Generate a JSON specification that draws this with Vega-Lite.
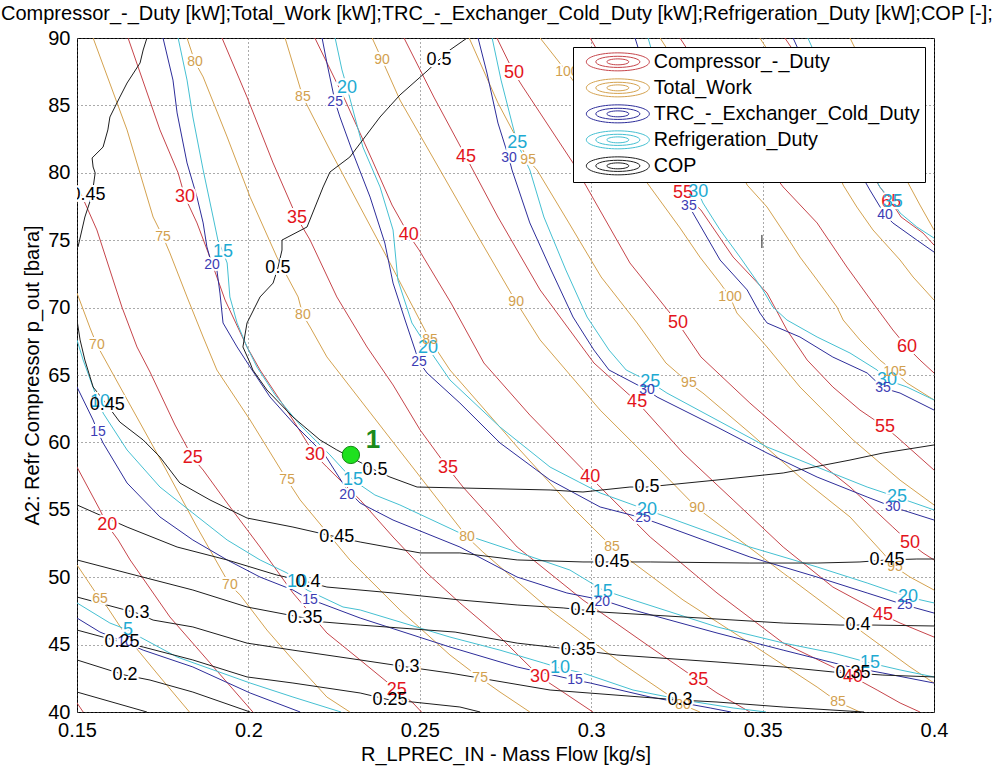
{
  "$schema": "https://vega.github.io/schema/vega-lite/v6.json",
  "width": 857,
  "height": 674,
  "autosize": {"type": "none"},
  "padding": {"left": 77, "top": 38, "right": 70, "bottom": 57},
  "background": "white",
  "title": {"text": "Compressor_-_Duty [kW];Total_Work [kW];TRC_-_Exchanger_Cold_Duty [kW];Refrigeration_Duty [kW];COP [-];", "anchor": "start", "frame": "group", "dx": -76, "offset": 4, "fontSize": 20, "font": "Liberation Sans", "fontWeight": "normal", "color": "black"},
  "config": {
    "view": {"stroke": "black", "strokeWidth": 1},
    "legend": {
      "title": null, "orient": "top-right", "offset": 9, "fillColor": "white", "strokeColor": "black", "strokeWidth": 1, "padding": 5, "cornerRadius": 0,
      "symbolType": "M-3.5,0A3.5,1,0,1,1,3.5,0A3.5,1,0,1,1,-3.5,0ZM-2.45,0A2.45,0.62,0,1,1,2.45,0A2.45,0.62,0,1,1,-2.45,0ZM-1.22,0A1.22,0.33,0,1,1,1.22,0A1.22,0.33,0,1,1,-1.22,0Z",
      "symbolSize": 324, "symbolStrokeWidth": 1, "symbolOffset": 30, "labelOffset": 26, "labelFontSize": 19.7, "labelFont": "Liberation Sans", "labelColor": "black", "rowPadding": 3, "labelLimit": 500
    }
  },
  "datasets": {
    "names": [
      {"k": "C", "s": "Compressor_-_Duty"}, {"k": "W", "s": "Total_Work"}, {"k": "T", "s": "TRC_-_Exchanger_Cold_Duty"}, {"k": "R", "s": "Refrigeration_Duty"}, {"k": "P", "s": "COP"}
    ],
    "pt": [{"x": 0.2299, "y": 59.07, "t": "1"}],
    "lines": [
      {"k":"C","g":"r15","x":0.15,"y":40.67},{"k":"C","g":"r15","x":0.1518,"y":40},
      {"k":"C","g":"r20","x":0.15,"y":58.17},{"k":"C","g":"r20","x":0.1567,"y":54.99},{"k":"C","g":"r20","x":0.1588,"y":53.87},{"k":"C","g":"r20","x":0.162,"y":52.76},{"k":"C","g":"r20","x":0.1655,"y":51.28},{"k":"C","g":"r20","x":0.1771,"y":47.05},{"k":"C","g":"r20","x":0.1888,"y":43.64},{"k":"C","g":"r20","x":0.2013,"y":40},
      {"k":"C","g":"r25","x":0.15,"y":79.09},{"k":"C","g":"r25","x":0.1558,"y":75.76},{"k":"C","g":"r25","x":0.1631,"y":70.04},{"k":"C","g":"r25","x":0.1675,"y":67.08},{"k":"C","g":"r25","x":0.1713,"y":65.22},{"k":"C","g":"r25","x":0.1786,"y":61.29},{"k":"C","g":"r25","x":0.1838,"y":58.84},{"k":"C","g":"r25","x":0.1868,"y":57.95},{"k":"C","g":"r25","x":0.1938,"y":55.5},{"k":"C","g":"r25","x":0.2034,"y":52.24},{"k":"C","g":"r25","x":0.213,"y":48.83},{"k":"C","g":"r25","x":0.2229,"y":45.86},{"k":"C","g":"r25","x":0.2326,"y":43.86},{"k":"C","g":"r25","x":0.2433,"y":41.63},{"k":"C","g":"r25","x":0.248,"y":40.67},{"k":"C","g":"r25","x":0.2505,"y":40},
      {"k":"C","g":"r30","x":0.1649,"y":90},{"k":"C","g":"r30","x":0.1742,"y":83.18},{"k":"C","g":"r30","x":0.1795,"y":79.99},{"k":"C","g":"r30","x":0.1815,"y":78.2},{"k":"C","g":"r30","x":0.185,"y":76.28},{"k":"C","g":"r30","x":0.1882,"y":74.12},{"k":"C","g":"r30","x":0.1932,"y":70.56},{"k":"C","g":"r30","x":0.1996,"y":67.08},{"k":"C","g":"r30","x":0.2034,"y":65.37},{"k":"C","g":"r30","x":0.2121,"y":62.03},{"k":"C","g":"r30","x":0.2194,"y":59.07},{"k":"C","g":"r30","x":0.2229,"y":58.17},{"k":"C","g":"r30","x":0.2326,"y":55.73},{"k":"C","g":"r30","x":0.2422,"y":52.98},{"k":"C","g":"r30","x":0.2521,"y":50.31},{"k":"C","g":"r30","x":0.2617,"y":48.09},{"k":"C","g":"r30","x":0.2734,"y":45.56},{"k":"C","g":"r30","x":0.2851,"y":42.6},{"k":"C","g":"r30","x":0.2909,"y":41.63},{"k":"C","g":"r30","x":0.3005,"y":40},
      {"k":"C","g":"r35","x":0.1923,"y":90},{"k":"C","g":"r35","x":0.1996,"y":85.62},{"k":"C","g":"r35","x":0.2072,"y":80.73},{"k":"C","g":"r35","x":0.2142,"y":76.65},{"k":"C","g":"r35","x":0.218,"y":75.01},{"k":"C","g":"r35","x":0.2258,"y":70.79},{"k":"C","g":"r35","x":0.2346,"y":67.08},{"k":"C","g":"r35","x":0.2422,"y":64.26},{"k":"C","g":"r35","x":0.2501,"y":60.92},{"k":"C","g":"r35","x":0.2582,"y":58.1},{"k":"C","g":"r35","x":0.2626,"y":56.69},{"k":"C","g":"r35","x":0.2784,"y":52.24},{"k":"C","g":"r35","x":0.2976,"y":48.31},{"k":"C","g":"r35","x":0.3172,"y":44.82},{"k":"C","g":"r35","x":0.3312,"y":42.37},{"k":"C","g":"r35","x":0.3367,"y":41.41},{"k":"C","g":"r35","x":0.3463,"y":40},
      {"k":"C","g":"r40","x":0.2194,"y":90},{"k":"C","g":"r40","x":0.2282,"y":85.4},{"k":"C","g":"r40","x":0.2361,"y":80.95},{"k":"C","g":"r40","x":0.2419,"y":77.61},{"k":"C","g":"r40","x":0.2468,"y":75.39},{"k":"C","g":"r40","x":0.2498,"y":74.27},{"k":"C","g":"r40","x":0.2591,"y":70.34},{"k":"C","g":"r40","x":0.2687,"y":65.89},{"k":"C","g":"r40","x":0.2821,"y":62.03},{"k":"C","g":"r40","x":0.2997,"y":57.43},{"k":"C","g":"r40","x":0.3026,"y":56.69},{"k":"C","g":"r40","x":0.3172,"y":52.98},{"k":"C","g":"r40","x":0.3367,"y":48.83},{"k":"C","g":"r40","x":0.356,"y":45.12},{"k":"C","g":"r40","x":0.3705,"y":43.34},{"k":"C","g":"r40","x":0.3764,"y":42.6},{"k":"C","g":"r40","x":0.3834,"y":41.63},{"k":"C","g":"r40","x":0.3901,"y":40.67},{"k":"C","g":"r40","x":0.3959,"y":40},
      {"k":"C","g":"r45","x":0.2454,"y":90},{"k":"C","g":"r45","x":0.2541,"y":85.62},{"k":"C","g":"r45","x":0.2635,"y":81.17},{"k":"C","g":"r45","x":0.2655,"y":80.21},{"k":"C","g":"r45","x":0.2728,"y":76.72},{"k":"C","g":"r45","x":0.2851,"y":71.31},{"k":"C","g":"r45","x":0.3008,"y":65.89},{"k":"C","g":"r45","x":0.3134,"y":63},{"k":"C","g":"r45","x":0.3163,"y":62.18},{"k":"C","g":"r45","x":0.3268,"y":59.21},{"k":"C","g":"r45","x":0.3414,"y":55.73},{"k":"C","g":"r45","x":0.356,"y":52.24},{"k":"C","g":"r45","x":0.3705,"y":49.27},{"k":"C","g":"r45","x":0.3813,"y":47.79},{"k":"C","g":"r45","x":0.3851,"y":47.2},{"k":"C","g":"r45","x":0.3901,"y":46.6},{"k":"C","g":"r45","x":0.4,"y":45.56},
      {"k":"C","g":"r50","x":0.2725,"y":90},{"k":"C","g":"r50","x":0.2775,"y":87.4},{"k":"C","g":"r50","x":0.2801,"y":86.36},{"k":"C","g":"r50","x":0.2947,"y":80.73},{"k":"C","g":"r50","x":0.3113,"y":73.31},{"k":"C","g":"r50","x":0.3253,"y":68.86},{"k":"C","g":"r50","x":0.332,"y":66.34},{"k":"C","g":"r50","x":0.3463,"y":62.92},{"k":"C","g":"r50","x":0.3609,"y":59.66},{"k":"C","g":"r50","x":0.3755,"y":56.69},{"k":"C","g":"r50","x":0.388,"y":53.72},{"k":"C","g":"r50","x":0.393,"y":52.54},{"k":"C","g":"r50","x":0.3968,"y":51.8},{"k":"C","g":"r50","x":0.4,"y":51.28},
      {"k":"C","g":"r55","x":0.2997,"y":90},{"k":"C","g":"r55","x":0.3084,"y":86.14},{"k":"C","g":"r55","x":0.3172,"y":82.43},{"k":"C","g":"r55","x":0.3268,"y":78.5},{"k":"C","g":"r55","x":0.332,"y":77.24},{"k":"C","g":"r55","x":0.3414,"y":73.75},{"k":"C","g":"r55","x":0.3513,"y":71.08},{"k":"C","g":"r55","x":0.3571,"y":68.34},{"k":"C","g":"r55","x":0.363,"y":66.11},{"k":"C","g":"r55","x":0.3705,"y":64.11},{"k":"C","g":"r55","x":0.3784,"y":62.4},{"k":"C","g":"r55","x":0.3857,"y":61.14},{"k":"C","g":"r55","x":0.3892,"y":60.4},{"k":"C","g":"r55","x":0.4,"y":57.95},
      {"k":"C","g":"r60","x":0.3259,"y":90},{"k":"C","g":"r60","x":0.3376,"y":85.4},{"k":"C","g":"r60","x":0.3478,"y":81.69},{"k":"C","g":"r60","x":0.356,"y":78.95},{"k":"C","g":"r60","x":0.3659,"y":76.28},{"k":"C","g":"r60","x":0.3746,"y":73.01},{"k":"C","g":"r60","x":0.3822,"y":70.34},{"k":"C","g":"r60","x":0.388,"y":68.34},{"k":"C","g":"r60","x":0.3921,"y":67.08},{"k":"C","g":"r60","x":0.3959,"y":66.11},{"k":"C","g":"r60","x":0.4,"y":65.15},
      {"k":"C","g":"r65","x":0.3565,"y":90},{"k":"C","g":"r65","x":0.3726,"y":83.92},{"k":"C","g":"r65","x":0.3842,"y":78.95},{"k":"C","g":"r65","x":0.3875,"y":77.83},{"k":"C","g":"r65","x":0.3904,"y":76.72},{"k":"C","g":"r65","x":0.3968,"y":75.53},{"k":"C","g":"r65","x":0.4,"y":74.64},

      {"k":"W","g":"t65","x":0.15,"y":50.91},{"k":"W","g":"t65","x":0.1567,"y":48.38},{"k":"W","g":"t65","x":0.1588,"y":47.79},{"k":"W","g":"t65","x":0.1646,"y":45.56},{"k":"W","g":"t65","x":0.1742,"y":42.6},{"k":"W","g":"t65","x":0.1828,"y":40},
      {"k":"W","g":"t70","x":0.15,"y":71.08},{"k":"W","g":"t70","x":0.1538,"y":68.49},{"k":"W","g":"t70","x":0.1558,"y":67.23},{"k":"W","g":"t70","x":0.1655,"y":62.77},{"k":"W","g":"t70","x":0.1757,"y":58.1},{"k":"W","g":"t70","x":0.185,"y":53.72},{"k":"W","g":"t70","x":0.1946,"y":49.42},{"k":"W","g":"t70","x":0.1976,"y":48.68},{"k":"W","g":"t70","x":0.2054,"y":46.08},{"k":"W","g":"t70","x":0.213,"y":43.86},{"k":"W","g":"t70","x":0.2229,"y":41.11},{"k":"W","g":"t70","x":0.2296,"y":40},
      {"k":"W","g":"t75","x":0.1547,"y":90},{"k":"W","g":"t75","x":0.1646,"y":83.18},{"k":"W","g":"t75","x":0.1722,"y":76.72},{"k":"W","g":"t75","x":0.1751,"y":75.24},{"k":"W","g":"t75","x":0.1771,"y":74.05},{"k":"W","g":"t75","x":0.1821,"y":70.79},{"k":"W","g":"t75","x":0.1868,"y":67.82},{"k":"W","g":"t75","x":0.1908,"y":65.37},{"k":"W","g":"t75","x":0.2005,"y":61.66},{"k":"W","g":"t75","x":0.2113,"y":57.21},{"k":"W","g":"t75","x":0.2151,"y":55.73},{"k":"W","g":"t75","x":0.2296,"y":51.28},{"k":"W","g":"t75","x":0.2442,"y":47.57},{"k":"W","g":"t75","x":0.2588,"y":44.23},{"k":"W","g":"t75","x":0.2676,"y":42.52},{"k":"W","g":"t75","x":0.2734,"y":41.48},{"k":"W","g":"t75","x":0.2821,"y":40},
      {"k":"W","g":"t80","x":0.1821,"y":90},{"k":"W","g":"t80","x":0.1844,"y":88.22},{"k":"W","g":"t80","x":0.1868,"y":87.11},{"k":"W","g":"t80","x":0.1938,"y":82.66},{"k":"W","g":"t80","x":0.2005,"y":78.2},{"k":"W","g":"t80","x":0.2083,"y":73.75},{"k":"W","g":"t80","x":0.2145,"y":70.79},{"k":"W","g":"t80","x":0.2159,"y":69.45},{"k":"W","g":"t80","x":0.218,"y":68.56},{"k":"W","g":"t80","x":0.2229,"y":66.34},{"k":"W","g":"t80","x":0.2433,"y":59.66},{"k":"W","g":"t80","x":0.2638,"y":52.98},{"k":"W","g":"t80","x":0.2684,"y":51.87},{"k":"W","g":"t80","x":0.288,"y":47.57},{"k":"W","g":"t80","x":0.3075,"y":43.86},{"k":"W","g":"t80","x":0.3268,"y":40.52},{"k":"W","g":"t80","x":0.3317,"y":40},
      {"k":"W","g":"t85","x":0.2107,"y":90},{"k":"W","g":"t85","x":0.2159,"y":85.62},{"k":"W","g":"t85","x":0.2238,"y":81.69},{"k":"W","g":"t85","x":0.2326,"y":77.46},{"k":"W","g":"t85","x":0.2413,"y":73.31},{"k":"W","g":"t85","x":0.253,"y":67.6},{"k":"W","g":"t85","x":0.2588,"y":65.37},{"k":"W","g":"t85","x":0.2792,"y":59.44},{"k":"W","g":"t85","x":0.2938,"y":55.36},{"k":"W","g":"t85","x":0.3061,"y":52.24},{"k":"W","g":"t85","x":0.3268,"y":48.31},{"k":"W","g":"t85","x":0.3463,"y":45.11},{"k":"W","g":"t85","x":0.3659,"y":41.85},{"k":"W","g":"t85","x":0.372,"y":40.74},{"k":"W","g":"t85","x":0.3784,"y":40},
      {"k":"W","g":"t90","x":0.2361,"y":90},{"k":"W","g":"t90","x":0.239,"y":88.37},{"k":"W","g":"t90","x":0.2442,"y":85.4},{"k":"W","g":"t90","x":0.2559,"y":80.21},{"k":"W","g":"t90","x":0.2676,"y":75.01},{"k":"W","g":"t90","x":0.2781,"y":70.42},{"k":"W","g":"t90","x":0.2851,"y":67.6},{"k":"W","g":"t90","x":0.3026,"y":62.4},{"k":"W","g":"t90","x":0.3172,"y":58.69},{"k":"W","g":"t90","x":0.3309,"y":55.13},{"k":"W","g":"t90","x":0.3367,"y":54.02},{"k":"W","g":"t90","x":0.356,"y":50.31},{"k":"W","g":"t90","x":0.3755,"y":46.6},{"k":"W","g":"t90","x":0.393,"y":43.34},{"k":"W","g":"t90","x":0.4,"y":42.15},
      {"k":"W","g":"t95","x":0.2644,"y":90},{"k":"W","g":"t95","x":0.2728,"y":85.18},{"k":"W","g":"t95","x":0.2816,"y":80.95},{"k":"W","g":"t95","x":0.2842,"y":80.21},{"k":"W","g":"t95","x":0.2935,"y":76.28},{"k":"W","g":"t95","x":0.3029,"y":72.27},{"k":"W","g":"t95","x":0.3134,"y":68.86},{"k":"W","g":"t95","x":0.3218,"y":65.89},{"k":"W","g":"t95","x":0.3285,"y":64.41},{"k":"W","g":"t95","x":0.3326,"y":63.66},{"k":"W","g":"t95","x":0.3463,"y":60.7},{"k":"W","g":"t95","x":0.3609,"y":57.43},{"k":"W","g":"t95","x":0.3755,"y":54.47},{"k":"W","g":"t95","x":0.3851,"y":51.8},{"k":"W","g":"t95","x":0.3886,"y":50.76},{"k":"W","g":"t95","x":0.393,"y":50.01},{"k":"W","g":"t95","x":0.4,"y":49.05},
      {"k":"W","g":"t100","x":0.2851,"y":90},{"k":"W","g":"t100","x":0.2929,"y":87.48},{"k":"W","g":"t100","x":0.3026,"y":84.07},{"k":"W","g":"t100","x":0.3142,"y":79.99},{"k":"W","g":"t100","x":0.3259,"y":75.91},{"k":"W","g":"t100","x":0.3317,"y":73.75},{"k":"W","g":"t100","x":0.3376,"y":71.82},{"k":"W","g":"t100","x":0.3405,"y":70.79},{"k":"W","g":"t100","x":0.3425,"y":69.6},{"k":"W","g":"t100","x":0.3513,"y":67.08},{"k":"W","g":"t100","x":0.3609,"y":64.11},{"k":"W","g":"t100","x":0.3705,"y":61.66},{"k":"W","g":"t100","x":0.3764,"y":60.18},{"k":"W","g":"t100","x":0.3901,"y":57.2},{"k":"W","g":"t100","x":0.4,"y":55.36},
      {"k":"W","g":"t105","x":0.3201,"y":90},{"k":"W","g":"t105","x":0.3317,"y":85.4},{"k":"W","g":"t105","x":0.3405,"y":81.69},{"k":"W","g":"t105","x":0.3455,"y":79.09},{"k":"W","g":"t105","x":0.3513,"y":77.46},{"k":"W","g":"t105","x":0.3571,"y":75.24},{"k":"W","g":"t105","x":0.3609,"y":73.75},{"k":"W","g":"t105","x":0.3659,"y":72.05},{"k":"W","g":"t105","x":0.3717,"y":70.04},{"k":"W","g":"t105","x":0.3735,"y":69.08},{"k":"W","g":"t105","x":0.3784,"y":67.6},{"k":"W","g":"t105","x":0.3842,"y":66.11},{"k":"W","g":"t105","x":0.3886,"y":65.22},{"k":"W","g":"t105","x":0.3921,"y":64.41},{"k":"W","g":"t105","x":0.4,"y":63.15},
      {"k":"W","g":"t110","x":0.3492,"y":90},{"k":"W","g":"t110","x":0.3609,"y":85.4},{"k":"W","g":"t110","x":0.3697,"y":81.69},{"k":"W","g":"t110","x":0.3735,"y":79.09},{"k":"W","g":"t110","x":0.3775,"y":77.46},{"k":"W","g":"t110","x":0.3822,"y":75.76},{"k":"W","g":"t110","x":0.3901,"y":73.53},{"k":"W","g":"t110","x":0.3939,"y":72.27},{"k":"W","g":"t110","x":0.4,"y":70.56},
      {"k":"W","g":"t115","x":0.3755,"y":90},{"k":"W","g":"t115","x":0.3872,"y":83.92},{"k":"W","g":"t115","x":0.3915,"y":79.69},{"k":"W","g":"t115","x":0.3959,"y":77.61},{"k":"W","g":"t115","x":0.4,"y":75.76},

      {"k":"T","g":"b10","x":0.15,"y":46.97},{"k":"T","g":"b10","x":0.1567,"y":45.93},{"k":"T","g":"b10","x":0.164,"y":45.18},{"k":"T","g":"b10","x":0.1693,"y":44.59},{"k":"T","g":"b10","x":0.1838,"y":43.34},{"k":"T","g":"b10","x":0.2005,"y":41.41},{"k":"T","g":"b10","x":0.2151,"y":40},
      {"k":"T","g":"b15","x":0.15,"y":64.11},{"k":"T","g":"b15","x":0.1547,"y":61.66},{"k":"T","g":"b15","x":0.1561,"y":60.77},{"k":"T","g":"b15","x":0.1576,"y":59.96},{"k":"T","g":"b15","x":0.1646,"y":56.99},{"k":"T","g":"b15","x":0.1742,"y":54.47},{"k":"T","g":"b15","x":0.1838,"y":52.76},{"k":"T","g":"b15","x":0.1938,"y":51.28},{"k":"T","g":"b15","x":0.2034,"y":50.01},{"k":"T","g":"b15","x":0.213,"y":49.05},{"k":"T","g":"b15","x":0.218,"y":48.31},{"k":"T","g":"b15","x":0.2209,"y":48.09},{"k":"T","g":"b15","x":0.2326,"y":46.97},{"k":"T","g":"b15","x":0.2588,"y":44.82},{"k":"T","g":"b15","x":0.2784,"y":43.34},{"k":"T","g":"b15","x":0.2953,"y":42.37},{"k":"T","g":"b15","x":0.2997,"y":42.15},{"k":"T","g":"b15","x":0.3172,"y":41.11},{"k":"T","g":"b15","x":0.3347,"y":40.3},{"k":"T","g":"b15","x":0.3408,"y":40},
      {"k":"T","g":"b20","x":0.1751,"y":90},{"k":"T","g":"b20","x":0.178,"y":86.88},{"k":"T","g":"b20","x":0.1792,"y":84.44},{"k":"T","g":"b20","x":0.1821,"y":80.73},{"k":"T","g":"b20","x":0.185,"y":78.2},{"k":"T","g":"b20","x":0.1868,"y":76.28},{"k":"T","g":"b20","x":0.1879,"y":74.5},{"k":"T","g":"b20","x":0.1894,"y":73.16},{"k":"T","g":"b20","x":0.1908,"y":72.79},{"k":"T","g":"b20","x":0.1917,"y":71.08},{"k":"T","g":"b20","x":0.1926,"y":68.86},{"k":"T","g":"b20","x":0.1967,"y":67.08},{"k":"T","g":"b20","x":0.2005,"y":65.59},{"k":"T","g":"b20","x":0.2063,"y":63.37},{"k":"T","g":"b20","x":0.2136,"y":61.29},{"k":"T","g":"b20","x":0.2223,"y":59.07},{"k":"T","g":"b20","x":0.2288,"y":56.47},{"k":"T","g":"b20","x":0.2326,"y":55.5},{"k":"T","g":"b20","x":0.2422,"y":54.24},{"k":"T","g":"b20","x":0.2617,"y":52.24},{"k":"T","g":"b20","x":0.2784,"y":50.01},{"k":"T","g":"b20","x":0.2929,"y":48.83},{"k":"T","g":"b20","x":0.3032,"y":48.31},{"k":"T","g":"b20","x":0.3122,"y":47.57},{"k":"T","g":"b20","x":0.3367,"y":45.86},{"k":"T","g":"b20","x":0.356,"y":44.59},{"k":"T","g":"b20","x":0.3755,"y":43.34},{"k":"T","g":"b20","x":0.3851,"y":42.89},{"k":"T","g":"b20","x":0.4,"y":42.15},
      {"k":"T","g":"b25","x":0.2215,"y":90},{"k":"T","g":"b25","x":0.2229,"y":88.15},{"k":"T","g":"b25","x":0.2253,"y":85.25},{"k":"T","g":"b25","x":0.2267,"y":84.14},{"k":"T","g":"b25","x":0.2305,"y":81.47},{"k":"T","g":"b25","x":0.2355,"y":78.2},{"k":"T","g":"b25","x":0.2398,"y":74.79},{"k":"T","g":"b25","x":0.2422,"y":71.82},{"k":"T","g":"b25","x":0.2457,"y":69.08},{"k":"T","g":"b25","x":0.2498,"y":65.96},{"k":"T","g":"b25","x":0.2521,"y":65.15},{"k":"T","g":"b25","x":0.2617,"y":62.92},{"k":"T","g":"b25","x":0.2734,"y":59.96},{"k":"T","g":"b25","x":0.288,"y":57.21},{"k":"T","g":"b25","x":0.3026,"y":55.21},{"k":"T","g":"b25","x":0.3151,"y":54.39},{"k":"T","g":"b25","x":0.3192,"y":54.02},{"k":"T","g":"b25","x":0.3463,"y":51.5},{"k":"T","g":"b25","x":0.3659,"y":50.01},{"k":"T","g":"b25","x":0.3805,"y":48.83},{"k":"T","g":"b25","x":0.3915,"y":47.94},{"k":"T","g":"b25","x":0.4,"y":47.34},
      {"k":"T","g":"b30","x":0.267,"y":90},{"k":"T","g":"b30","x":0.2696,"y":87.4},{"k":"T","g":"b30","x":0.2728,"y":83.69},{"k":"T","g":"b30","x":0.276,"y":81.1},{"k":"T","g":"b30","x":0.2769,"y":80.21},{"k":"T","g":"b30","x":0.2821,"y":76.28},{"k":"T","g":"b30","x":0.2883,"y":72.79},{"k":"T","g":"b30","x":0.2947,"y":69.3},{"k":"T","g":"b30","x":0.3008,"y":66.85},{"k":"T","g":"b30","x":0.3052,"y":65.37},{"k":"T","g":"b30","x":0.3163,"y":63.89},{"k":"T","g":"b30","x":0.3192,"y":63.37},{"k":"T","g":"b30","x":0.3367,"y":61.14},{"k":"T","g":"b30","x":0.3513,"y":59.21},{"k":"T","g":"b30","x":0.3659,"y":57.43},{"k":"T","g":"b30","x":0.3805,"y":55.95},{"k":"T","g":"b30","x":0.388,"y":55.21},{"k":"T","g":"b30","x":0.4,"y":54.24},
      {"k":"T","g":"b35","x":0.3128,"y":90},{"k":"T","g":"b35","x":0.3166,"y":86.88},{"k":"T","g":"b35","x":0.3207,"y":83.18},{"k":"T","g":"b35","x":0.3244,"y":79.47},{"k":"T","g":"b35","x":0.3285,"y":77.54},{"k":"T","g":"b35","x":0.3317,"y":76.13},{"k":"T","g":"b35","x":0.3376,"y":73.53},{"k":"T","g":"b35","x":0.3455,"y":71.31},{"k":"T","g":"b35","x":0.3492,"y":69.6},{"k":"T","g":"b35","x":0.3513,"y":68.86},{"k":"T","g":"b35","x":0.3609,"y":67.82},{"k":"T","g":"b35","x":0.3705,"y":66.33},{"k":"T","g":"b35","x":0.3805,"y":65.15},{"k":"T","g":"b35","x":0.3851,"y":64.04},{"k":"T","g":"b35","x":0.3901,"y":63.66},{"k":"T","g":"b35","x":0.4,"y":62.4},
      {"k":"T","g":"b40","x":0.3589,"y":90},{"k":"T","g":"b40","x":0.3697,"y":83.92},{"k":"T","g":"b40","x":0.3813,"y":78.72},{"k":"T","g":"b40","x":0.3857,"y":76.87},{"k":"T","g":"b40","x":0.388,"y":76.28},{"k":"T","g":"b40","x":0.395,"y":75.01},{"k":"T","g":"b40","x":0.4,"y":74.12},

      {"k":"R","g":"c5","x":0.15,"y":48.09},{"k":"R","g":"c5","x":0.1596,"y":46.6},{"k":"R","g":"c5","x":0.1649,"y":46.08},{"k":"R","g":"c5","x":0.1684,"y":45.56},{"k":"R","g":"c5","x":0.1792,"y":44.08},{"k":"R","g":"c5","x":0.2005,"y":42.15},{"k":"R","g":"c5","x":0.213,"y":41.11},{"k":"R","g":"c5","x":0.227,"y":40},
      {"k":"R","g":"c10","x":0.15,"y":67.6},{"k":"R","g":"c10","x":0.1518,"y":66.11},{"k":"R","g":"c10","x":0.1553,"y":63.66},{"k":"R","g":"c10","x":0.1567,"y":63},{"k":"R","g":"c10","x":0.1576,"y":62.18},{"k":"R","g":"c10","x":0.1646,"y":59.44},{"k":"R","g":"c10","x":0.1742,"y":56.69},{"k":"R","g":"c10","x":0.1838,"y":54.76},{"k":"R","g":"c10","x":0.1938,"y":52.76},{"k":"R","g":"c10","x":0.2034,"y":51.28},{"k":"R","g":"c10","x":0.2113,"y":50.31},{"k":"R","g":"c10","x":0.2142,"y":49.64},{"k":"R","g":"c10","x":0.2171,"y":49.05},{"k":"R","g":"c10","x":0.2276,"y":47.79},{"k":"R","g":"c10","x":0.2326,"y":47.57},{"k":"R","g":"c10","x":0.2588,"y":45.56},{"k":"R","g":"c10","x":0.2734,"y":44.59},{"k":"R","g":"c10","x":0.286,"y":43.64},{"k":"R","g":"c10","x":0.2909,"y":43.26},{"k":"R","g":"c10","x":0.2976,"y":42.89},{"k":"R","g":"c10","x":0.3122,"y":41.63},{"k":"R","g":"c10","x":0.3268,"y":40.89},{"k":"R","g":"c10","x":0.3414,"y":40.3},{"k":"R","g":"c10","x":0.351,"y":40},
      {"k":"R","g":"c15","x":0.1795,"y":90},{"k":"R","g":"c15","x":0.1821,"y":86.88},{"k":"R","g":"c15","x":0.1838,"y":84.14},{"k":"R","g":"c15","x":0.1868,"y":80.21},{"k":"R","g":"c15","x":0.1897,"y":76.72},{"k":"R","g":"c15","x":0.1911,"y":75.01},{"k":"R","g":"c15","x":0.1926,"y":74.12},{"k":"R","g":"c15","x":0.1938,"y":73.31},{"k":"R","g":"c15","x":0.1946,"y":70.79},{"k":"R","g":"c15","x":0.1967,"y":68.86},{"k":"R","g":"c15","x":0.1996,"y":67.08},{"k":"R","g":"c15","x":0.2025,"y":65.59},{"k":"R","g":"c15","x":0.2078,"y":63.52},{"k":"R","g":"c15","x":0.2151,"y":61.29},{"k":"R","g":"c15","x":0.2238,"y":59.07},{"k":"R","g":"c15","x":0.2305,"y":57.21},{"k":"R","g":"c15","x":0.2369,"y":56.1},{"k":"R","g":"c15","x":0.2442,"y":55.36},{"k":"R","g":"c15","x":0.2617,"y":53.28},{"k":"R","g":"c15","x":0.2792,"y":51.8},{"k":"R","g":"c15","x":0.2938,"y":50.53},{"k":"R","g":"c15","x":0.3034,"y":49.05},{"k":"R","g":"c15","x":0.3122,"y":48.31},{"k":"R","g":"c15","x":0.3367,"y":46.31},{"k":"R","g":"c15","x":0.356,"y":45.12},{"k":"R","g":"c15","x":0.3705,"y":44.38},{"k":"R","g":"c15","x":0.3813,"y":43.64},{"k":"R","g":"c15","x":0.3901,"y":43.12},{"k":"R","g":"c15","x":0.4,"y":42.6},
      {"k":"R","g":"c20","x":0.2253,"y":90},{"k":"R","g":"c20","x":0.2273,"y":87.63},{"k":"R","g":"c20","x":0.2288,"y":86.29},{"k":"R","g":"c20","x":0.2305,"y":84.66},{"k":"R","g":"c20","x":0.2334,"y":81.91},{"k":"R","g":"c20","x":0.2384,"y":78.95},{"k":"R","g":"c20","x":0.2422,"y":75.76},{"k":"R","g":"c20","x":0.2436,"y":72.05},{"k":"R","g":"c20","x":0.2477,"y":68.86},{"k":"R","g":"c20","x":0.2524,"y":67},{"k":"R","g":"c20","x":0.2588,"y":64.63},{"k":"R","g":"c20","x":0.2734,"y":61.14},{"k":"R","g":"c20","x":0.288,"y":58.17},{"k":"R","g":"c20","x":0.3026,"y":56.25},{"k":"R","g":"c20","x":0.3163,"y":54.99},{"k":"R","g":"c20","x":0.3221,"y":54.47},{"k":"R","g":"c20","x":0.3463,"y":52.24},{"k":"R","g":"c20","x":0.3659,"y":50.76},{"k":"R","g":"c20","x":0.3805,"y":49.57},{"k":"R","g":"c20","x":0.3924,"y":48.53},{"k":"R","g":"c20","x":0.4,"y":48.09},
      {"k":"R","g":"c25","x":0.2711,"y":90},{"k":"R","g":"c25","x":0.2737,"y":86.88},{"k":"R","g":"c25","x":0.2769,"y":83.69},{"k":"R","g":"c25","x":0.2784,"y":82.21},{"k":"R","g":"c25","x":0.2821,"y":80.21},{"k":"R","g":"c25","x":0.2862,"y":76.72},{"k":"R","g":"c25","x":0.2926,"y":72.79},{"k":"R","g":"c25","x":0.2988,"y":69.3},{"k":"R","g":"c25","x":0.3052,"y":66.85},{"k":"R","g":"c25","x":0.3102,"y":65.37},{"k":"R","g":"c25","x":0.3172,"y":64.48},{"k":"R","g":"c25","x":0.3221,"y":63.66},{"k":"R","g":"c25","x":0.3367,"y":61.66},{"k":"R","g":"c25","x":0.3513,"y":59.66},{"k":"R","g":"c25","x":0.3659,"y":58.17},{"k":"R","g":"c25","x":0.3805,"y":56.69},{"k":"R","g":"c25","x":0.3892,"y":55.95},{"k":"R","g":"c25","x":0.4,"y":54.99},
      {"k":"R","g":"c30","x":0.3166,"y":90},{"k":"R","g":"c30","x":0.3201,"y":86.88},{"k":"R","g":"c30","x":0.3244,"y":83.18},{"k":"R","g":"c30","x":0.3288,"y":79.84},{"k":"R","g":"c30","x":0.3312,"y":78.58},{"k":"R","g":"c30","x":0.3326,"y":77.76},{"k":"R","g":"c30","x":0.3376,"y":75.76},{"k":"R","g":"c30","x":0.3434,"y":73.75},{"k":"R","g":"c30","x":0.3501,"y":71.31},{"k":"R","g":"c30","x":0.353,"y":70.04},{"k":"R","g":"c30","x":0.3571,"y":69.08},{"k":"R","g":"c30","x":0.3659,"y":67.82},{"k":"R","g":"c30","x":0.3755,"y":66.63},{"k":"R","g":"c30","x":0.3834,"y":65.37},{"k":"R","g":"c30","x":0.3863,"y":64.63},{"k":"R","g":"c30","x":0.3921,"y":64.11},{"k":"R","g":"c30","x":0.4,"y":63.15},
      {"k":"R","g":"c35","x":0.3632,"y":90},{"k":"R","g":"c35","x":0.374,"y":83.92},{"k":"R","g":"c35","x":0.3842,"y":78.95},{"k":"R","g":"c35","x":0.388,"y":77.83},{"k":"R","g":"c35","x":0.3901,"y":77.02},{"k":"R","g":"c35","x":0.395,"y":75.98},{"k":"R","g":"c35","x":0.4,"y":75.16},

      {"k":"P","g":"k50","x":0.2638,"y":90},{"k":"P","g":"k50","x":0.2588,"y":89.11},{"k":"P","g":"k50","x":0.2556,"y":88.37},{"k":"P","g":"k50","x":0.2518,"y":87.48},{"k":"P","g":"k50","x":0.2442,"y":85.77},{"k":"P","g":"k50","x":0.2384,"y":84.14},{"k":"P","g":"k50","x":0.2296,"y":81.17},{"k":"P","g":"k50","x":0.2238,"y":80.06},{"k":"P","g":"k50","x":0.2218,"y":78.95},{"k":"P","g":"k50","x":0.2171,"y":75.98},{"k":"P","g":"k50","x":0.2098,"y":75.01},{"k":"P","g":"k50","x":0.2098,"y":74.27},{"k":"P","g":"k50","x":0.2086,"y":72.94},{"k":"P","g":"k50","x":0.2072,"y":71.82},{"k":"P","g":"k50","x":0.2034,"y":70.79},{"k":"P","g":"k50","x":0.1996,"y":68.86},{"k":"P","g":"k50","x":0.1984,"y":67.08},{"k":"P","g":"k50","x":0.2005,"y":65.89},{"k":"P","g":"k50","x":0.2013,"y":65.37},{"k":"P","g":"k50","x":0.2054,"y":63.89},{"k":"P","g":"k50","x":0.213,"y":61.88},{"k":"P","g":"k50","x":0.2209,"y":60.18},{"k":"P","g":"k50","x":0.2258,"y":59.44},{"k":"P","g":"k50","x":0.2369,"y":57.95},{"k":"P","g":"k50","x":0.2413,"y":57.43},{"k":"P","g":"k50","x":0.2492,"y":56.69},{"k":"P","g":"k50","x":0.2617,"y":56.62},{"k":"P","g":"k50","x":0.288,"y":56.47},{"k":"P","g":"k50","x":0.2976,"y":56.32},{"k":"P","g":"k50","x":0.3113,"y":56.69},{"k":"P","g":"k50","x":0.3163,"y":56.69},{"k":"P","g":"k50","x":0.3221,"y":56.84},{"k":"P","g":"k50","x":0.3367,"y":57.21},{"k":"P","g":"k50","x":0.356,"y":57.73},{"k":"P","g":"k50","x":0.3755,"y":58.69},{"k":"P","g":"k50","x":0.3851,"y":59.21},{"k":"P","g":"k50","x":0.4,"y":59.81},
      {"k":"P","g":"k50b","x":0.3498,"y":75.39},{"k":"P","g":"k50b","x":0.3498,"y":74.42},
      {"k":"P","g":"k45a","x":0.1704,"y":90},{"k":"P","g":"k45a","x":0.1693,"y":89.11},{"k":"P","g":"k45a","x":0.1684,"y":88.15},{"k":"P","g":"k45a","x":0.1646,"y":86.66},{"k":"P","g":"k45a","x":0.1625,"y":85.62},{"k":"P","g":"k45a","x":0.1596,"y":84.14},{"k":"P","g":"k45a","x":0.159,"y":83.18},{"k":"P","g":"k45a","x":0.1576,"y":81.91},{"k":"P","g":"k45a","x":0.1544,"y":81.1},{"k":"P","g":"k45a","x":0.1547,"y":80.43},{"k":"P","g":"k45a","x":0.1553,"y":79.99},{"k":"P","g":"k45a","x":0.1544,"y":78.35},{"k":"P","g":"k45a","x":0.1523,"y":76.72},{"k":"P","g":"k45a","x":0.1503,"y":74.5},
      {"k":"P","g":"k45b","x":0.15,"y":69.08},{"k":"P","g":"k45b","x":0.1509,"y":67.6},{"k":"P","g":"k45b","x":0.1523,"y":66.11},{"k":"P","g":"k45b","x":0.1547,"y":64.11},{"k":"P","g":"k45b","x":0.1588,"y":62.77},{"k":"P","g":"k45b","x":0.1625,"y":61.51},{"k":"P","g":"k45b","x":0.1693,"y":60.18},{"k":"P","g":"k45b","x":0.1742,"y":58.92},{"k":"P","g":"k45b","x":0.18,"y":56.99},{"k":"P","g":"k45b","x":0.1888,"y":55.73},{"k":"P","g":"k45b","x":0.1996,"y":54.39},{"k":"P","g":"k45b","x":0.213,"y":53.72},{"k":"P","g":"k45b","x":0.2258,"y":52.98},{"k":"P","g":"k45b","x":0.2326,"y":52.61},{"k":"P","g":"k45b","x":0.2501,"y":51.8},{"k":"P","g":"k45b","x":0.2617,"y":51.8},{"k":"P","g":"k45b","x":0.2784,"y":51.28},{"k":"P","g":"k45b","x":0.2976,"y":51.13},{"k":"P","g":"k45b","x":0.3061,"y":51.13},{"k":"P","g":"k45b","x":0.3172,"y":51.13},{"k":"P","g":"k45b","x":0.3463,"y":51.05},{"k":"P","g":"k45b","x":0.3659,"y":51.05},{"k":"P","g":"k45b","x":0.3784,"y":51.13},{"k":"P","g":"k45b","x":0.3863,"y":51.28},{"k":"P","g":"k45b","x":0.395,"y":51.35},{"k":"P","g":"k45b","x":0.4,"y":51.35},
      {"k":"P","g":"k40","x":0.15,"y":55.36},{"k":"P","g":"k40","x":0.1646,"y":53.72},{"k":"P","g":"k40","x":0.1792,"y":52.24},{"k":"P","g":"k40","x":0.1938,"y":51.28},{"k":"P","g":"k40","x":0.2083,"y":50.16},{"k":"P","g":"k40","x":0.2174,"y":49.64},{"k":"P","g":"k40","x":0.2229,"y":49.27},{"k":"P","g":"k40","x":0.2422,"y":48.83},{"k":"P","g":"k40","x":0.2617,"y":48.31},{"k":"P","g":"k40","x":0.2784,"y":47.94},{"k":"P","g":"k40","x":0.2918,"y":47.72},{"k":"P","g":"k40","x":0.2976,"y":47.57},{"k":"P","g":"k40","x":0.3026,"y":47.42},{"k":"P","g":"k40","x":0.3268,"y":47.05},{"k":"P","g":"k40","x":0.356,"y":46.6},{"k":"P","g":"k40","x":0.3726,"y":46.45},{"k":"P","g":"k40","x":0.3778,"y":46.45},{"k":"P","g":"k40","x":0.3822,"y":46.45},{"k":"P","g":"k40","x":0.4,"y":46.38},
      {"k":"P","g":"k35","x":0.15,"y":51.28},{"k":"P","g":"k35","x":0.1646,"y":50.31},{"k":"P","g":"k35","x":0.1838,"y":49.05},{"k":"P","g":"k35","x":0.1996,"y":47.79},{"k":"P","g":"k35","x":0.2165,"y":46.97},{"k":"P","g":"k35","x":0.2218,"y":46.68},{"k":"P","g":"k35","x":0.2326,"y":46.45},{"k":"P","g":"k35","x":0.2603,"y":45.93},{"k":"P","g":"k35","x":0.2784,"y":45.11},{"k":"P","g":"k35","x":0.2962,"y":44.59},{"k":"P","g":"k35","x":0.3075,"y":44.23},{"k":"P","g":"k35","x":0.3367,"y":43.71},{"k":"P","g":"k35","x":0.356,"y":43.34},{"k":"P","g":"k35","x":0.3705,"y":42.97},{"k":"P","g":"k35","x":0.3764,"y":42.89},{"k":"P","g":"k35","x":0.3851,"y":42.74},{"k":"P","g":"k35","x":0.4,"y":42.6},
      {"k":"P","g":"k30","x":0.15,"y":48.53},{"k":"P","g":"k30","x":0.1675,"y":47.34},{"k":"P","g":"k30","x":0.1722,"y":46.82},{"k":"P","g":"k30","x":0.1838,"y":46.31},{"k":"P","g":"k30","x":0.1996,"y":45.11},{"k":"P","g":"k30","x":0.213,"y":44.59},{"k":"P","g":"k30","x":0.2326,"y":43.86},{"k":"P","g":"k30","x":0.2463,"y":43.34},{"k":"P","g":"k30","x":0.2588,"y":42.89},{"k":"P","g":"k30","x":0.288,"y":41.63},{"k":"P","g":"k30","x":0.3259,"y":40.89},{"k":"P","g":"k30","x":0.3367,"y":40.74},{"k":"P","g":"k30","x":0.356,"y":40.37},{"k":"P","g":"k30","x":0.3796,"y":40},
      {"k":"P","g":"k25","x":0.15,"y":46.08},{"k":"P","g":"k25","x":0.1631,"y":45.18},{"k":"P","g":"k25","x":0.1693,"y":44.82},{"k":"P","g":"k25","x":0.1838,"y":43.86},{"k":"P","g":"k25","x":0.1996,"y":42.6},{"k":"P","g":"k25","x":0.213,"y":42.15},{"k":"P","g":"k25","x":0.2326,"y":41.41},{"k":"P","g":"k25","x":0.2413,"y":40.89},{"k":"P","g":"k25","x":0.248,"y":40.74},{"k":"P","g":"k25","x":0.2617,"y":40.37},{"k":"P","g":"k25","x":0.2676,"y":40},
      {"k":"P","g":"k20","x":0.15,"y":43.86},{"k":"P","g":"k20","x":0.164,"y":42.74},{"k":"P","g":"k20","x":0.1713,"y":42.37},{"k":"P","g":"k20","x":0.1838,"y":41.48},{"k":"P","g":"k20","x":0.2005,"y":40},
      {"k":"P","g":"k15","x":0.15,"y":41.48},{"k":"P","g":"k15","x":0.1704,"y":40}
    ],
    "labels": [
      {"k":"C","t":"20","x":0.1588,"y":53.87},{"k":"C","t":"25","x":0.1838,"y":58.84},{"k":"C","t":"25","x":0.2433,"y":41.63},{"k":"C","t":"30","x":0.1815,"y":78.2},{"k":"C","t":"30","x":0.2194,"y":59.07},{"k":"C","t":"30","x":0.2851,"y":42.6},{"k":"C","t":"35","x":0.2142,"y":76.65},{"k":"C","t":"35","x":0.2582,"y":58.1},{"k":"C","t":"35","x":0.3312,"y":42.37},{"k":"C","t":"40","x":0.2468,"y":75.39},{"k":"C","t":"40","x":0.2997,"y":57.43},{"k":"C","t":"40","x":0.3764,"y":42.6},{"k":"C","t":"45","x":0.2635,"y":81.17},{"k":"C","t":"45","x":0.3134,"y":63},{"k":"C","t":"45","x":0.3851,"y":47.2},{"k":"C","t":"50","x":0.2775,"y":87.4},{"k":"C","t":"50","x":0.3253,"y":68.86},{"k":"C","t":"50","x":0.393,"y":52.54},{"k":"C","t":"55","x":0.3268,"y":78.5},{"k":"C","t":"55","x":0.3857,"y":61.14},{"k":"C","t":"60","x":0.3921,"y":67.08},{"k":"C","t":"65","x":0.3875,"y":77.83},
      {"k":"R","t":"5","x":0.1649,"y":46.08},{"k":"R","t":"10","x":0.1567,"y":63},{"k":"R","t":"10","x":0.2142,"y":49.64},{"k":"R","t":"10","x":0.2909,"y":43.26},{"k":"R","t":"15","x":0.1926,"y":74.12},{"k":"R","t":"15","x":0.2305,"y":57.21},{"k":"R","t":"15","x":0.3034,"y":48.9},{"k":"R","t":"15","x":0.3813,"y":43.64},{"k":"R","t":"20","x":0.2288,"y":86.29},{"k":"R","t":"20","x":0.2524,"y":67},{"k":"R","t":"20","x":0.3163,"y":54.99},{"k":"R","t":"20","x":0.3924,"y":48.53},{"k":"R","t":"25","x":0.2784,"y":82.21},{"k":"R","t":"25","x":0.3172,"y":64.48},{"k":"R","t":"25","x":0.3892,"y":55.95},{"k":"R","t":"30","x":0.3312,"y":78.58},{"k":"R","t":"30","x":0.3863,"y":64.63},{"k":"R","t":"35","x":0.388,"y":77.83},
      {"k":"T","t":"10","x":0.164,"y":45.18},{"k":"T","t":"15","x":0.1561,"y":60.77},{"k":"T","t":"15","x":0.218,"y":48.31},{"k":"T","t":"15","x":0.2953,"y":42.37},{"k":"T","t":"20","x":0.1894,"y":73.16},{"k":"T","t":"20","x":0.2288,"y":56.1},{"k":"T","t":"20","x":0.3032,"y":48.16},{"k":"T","t":"25","x":0.2253,"y":85.25},{"k":"T","t":"25","x":0.2498,"y":65.96},{"k":"T","t":"25","x":0.3151,"y":54.39},{"k":"T","t":"25","x":0.3915,"y":47.94},{"k":"T","t":"30","x":0.276,"y":81.1},{"k":"T","t":"30","x":0.3163,"y":63.89},{"k":"T","t":"30","x":0.388,"y":55.21},{"k":"T","t":"35","x":0.3285,"y":77.54},{"k":"T","t":"35","x":0.3851,"y":64.04},{"k":"T","t":"40","x":0.3857,"y":76.87},
      {"k":"W","t":"65","x":0.1567,"y":48.38},{"k":"W","t":"70","x":0.1558,"y":67.23},{"k":"W","t":"70","x":0.1946,"y":49.42},{"k":"W","t":"75","x":0.1751,"y":75.24},{"k":"W","t":"75","x":0.2113,"y":57.21},{"k":"W","t":"75","x":0.2676,"y":42.52},{"k":"W","t":"80","x":0.1844,"y":88.22},{"k":"W","t":"80","x":0.2159,"y":69.45},{"k":"W","t":"80","x":0.2638,"y":52.98},{"k":"W","t":"80","x":0.3268,"y":40.52},{"k":"W","t":"85","x":0.2159,"y":85.62},{"k":"W","t":"85","x":0.253,"y":67.6},{"k":"W","t":"85","x":0.3061,"y":52.24},{"k":"W","t":"85","x":0.372,"y":40.74},{"k":"W","t":"90","x":0.239,"y":88.37},{"k":"W","t":"90","x":0.2781,"y":70.42},{"k":"W","t":"90","x":0.3309,"y":55.13},{"k":"W","t":"95","x":0.2816,"y":80.95},{"k":"W","t":"95","x":0.3285,"y":64.41},{"k":"W","t":"95","x":0.3886,"y":50.76},{"k":"W","t":"100","x":0.2929,"y":87.48},{"k":"W","t":"100","x":0.3405,"y":70.79},{"k":"W","t":"105","x":0.3886,"y":65.22},
      {"k":"P","t":"0.5","x":0.2556,"y":88.37},{"k":"P","t":"0.5","x":0.2086,"y":72.94},{"k":"P","t":"0.5","x":0.2369,"y":57.95},{"k":"P","t":"0.5","x":0.3163,"y":56.69},{"k":"P","t":"0.45","x":0.1532,"y":78.35},{"k":"P","t":"0.45","x":0.1588,"y":62.77},{"k":"P","t":"0.45","x":0.2258,"y":52.98},{"k":"P","t":"0.45","x":0.3061,"y":51.13},{"k":"P","t":"0.45","x":0.3863,"y":51.28},{"k":"P","t":"0.4","x":0.2174,"y":49.64},{"k":"P","t":"0.4","x":0.2976,"y":47.57},{"k":"P","t":"0.4","x":0.3778,"y":46.45},{"k":"P","t":"0.35","x":0.2165,"y":46.97},{"k":"P","t":"0.35","x":0.2962,"y":44.59},{"k":"P","t":"0.35","x":0.3764,"y":42.89},{"k":"P","t":"0.3","x":0.1675,"y":47.34},{"k":"P","t":"0.3","x":0.2463,"y":43.34},{"k":"P","t":"0.3","x":0.3259,"y":40.89},{"k":"P","t":"0.25","x":0.1631,"y":45.18},{"k":"P","t":"0.25","x":0.2413,"y":40.89},{"k":"P","t":"0.2","x":0.164,"y":42.74}
    ]
  },
  "encoding": {
    "x": {"field": "x", "type": "quantitative", "scale": {"domain": [0.15, 0.4], "nice": false, "zero": false},
      "axis": {"title": "R_LPREC_IN - Mass Flow [kg/s]", "values": [0.15, 0.2, 0.25, 0.3, 0.35, 0.4], "format": ".2~f", "grid": true, "gridDash": [1, 3], "gridColor": "#555", "gridOpacity": 1, "domain": false, "ticks": false, "labelPadding": 8, "titlePadding": 4, "labelFontSize": 20, "titleFontSize": 20, "labelFont": "Liberation Sans", "titleFont": "Liberation Sans", "titleFontWeight": "normal", "labelColor": "black", "titleColor": "black", "labelFlush": false, "labelOverlap": false}},
    "y": {"field": "y", "type": "quantitative", "scale": {"domain": [40, 90], "nice": false, "zero": false},
      "axis": {"title": "A2: Refr Compressor p_out [bara]", "values": [40, 45, 50, 55, 60, 65, 70, 75, 80, 85, 90], "grid": true, "gridDash": [1, 3], "gridColor": "#555", "gridOpacity": 1, "domain": false, "ticks": false, "labelPadding": 7, "titlePadding": 5, "labelFontSize": 20, "titleFontSize": 20, "labelFont": "Liberation Sans", "titleFont": "Liberation Sans", "titleFontWeight": "normal", "labelColor": "black", "titleColor": "black", "labelFlush": false, "labelOverlap": false}}
  },
  "layer": [
    {
      "data": {"name": "lines"},
      "transform": [{"lookup": "k", "from": {"data": {"name": "names"}, "key": "k", "fields": ["s"]}}],
      "mark": {"type": "line", "strokeWidth": 1, "clip": true, "order": false},
      "encoding": {
        "color": {"field": "s", "type": "nominal", "scale": {"domain": ["Compressor_-_Duty", "Total_Work", "TRC_-_Exchanger_Cold_Duty", "Refrigeration_Duty", "COP"], "range": ["#c6454b", "#d4a24f", "#2d2d9a", "#45c0d2", "#1e1e1e"]}},
        "detail": {"field": "g"}
      }
    },
    {
      "data": {"name": "labels"},
      "mark": {"type": "text", "font": "Liberation Sans", "color": "white", "stroke": "white", "strokeWidth": 4, "clip": true, "align": "center", "baseline": "middle"},
      "encoding": {
        "text": {"field": "t"},
        "size": {"condition": {"test": "datum.k === 'W' || datum.k === 'T'", "value": 14}, "value": 18}
      }
    },
    {
      "data": {"name": "labels"},
      "mark": {"type": "text", "font": "Liberation Sans", "clip": true, "align": "center", "baseline": "middle"},
      "encoding": {
        "text": {"field": "t"},
        "color": {"field": "k", "type": "nominal", "scale": {"domain": ["C", "W", "T", "R", "P"], "range": ["#e3141c", "#d2a04e", "#3c3cb4", "#1eaad2", "#000000"]}, "legend": null},
        "size": {"condition": {"test": "datum.k === 'W' || datum.k === 'T'", "value": 14}, "value": 18}
      }
    },
    {
      "data": {"name": "pt"},
      "mark": {"type": "point", "shape": "circle", "filled": true, "fill": "#1ee11e", "stroke": "#128a12", "strokeWidth": 1, "size": 300, "opacity": 1}
    },
    {
      "data": {"name": "pt"},
      "mark": {"type": "text", "font": "Liberation Sans", "fontSize": 26, "fontWeight": "bold", "color": "#1b8a1b", "dx": 22, "dy": -15, "align": "center", "baseline": "middle"},
      "encoding": {"text": {"field": "t"}}
    }
  ],
  "resolve": {"scale": {"color": "independent"}}
}
